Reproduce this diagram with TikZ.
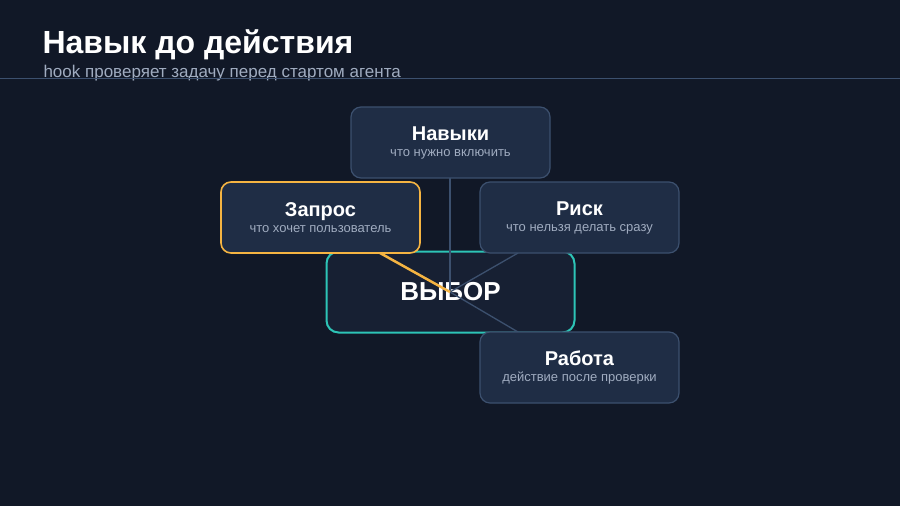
\documentclass[tikz,border=0pt]{standalone}
\usepackage{fontspec}
\setmainfont{Liberation Sans}
\definecolor{bgcol}{RGB}{17,24,39}
\definecolor{boxfill}{RGB}{31,45,69}
\definecolor{boxline}{RGB}{60,80,110}
\definecolor{midfill}{RGB}{23,32,51}
\definecolor{tealcol}{RGB}{45,196,182}
\definecolor{orangecol}{RGB}{245,180,66}
\definecolor{subcol}{RGB}{160,172,192}
\tikzset{
  card/.style={draw=boxline,fill=boxfill,line width=1.2pt,rounded corners=10pt,
    minimum width=199pt,minimum height=71pt,align=center,text=white},
  link/.style={draw=boxline,line width=1.3pt}
}
\newcommand{\cardtext}[2]{{\fontsize{20}{24}\selectfont\bfseries #1}\\[4pt]{\fontsize{13}{15}\selectfont\color{subcol}#2}}
\begin{document}
\begin{tikzpicture}[x=1pt,y=-1pt]
  \fill[bgcol] (0,0) rectangle (900,506);
  \useasboundingbox (0,0) rectangle (900,506);
  \node[anchor=base west,text=white,font=\fontsize{32}{36}\selectfont\bfseries] (title) at (39,53) {Навык до действия};
  \node[anchor=base west,text=subcol,font=\fontsize{17}{20}\selectfont] (sub) at (40,77) {hook проверяет задачу перед стартом агента};
  \draw[boxline,line width=0.8pt] (0,78) -- (900,78);
  % center
  \node[draw=tealcol,fill=midfill,line width=2pt,rounded corners=12pt,minimum width=248pt,
    minimum height=81pt,text=white,font=\fontsize{26}{30}\selectfont\bfseries] (choice) at (450.5,292) {ВЫБОР};
  \coordinate (hub) at (450,292);
  \coordinate (skillsend) at (450,178);
  \coordinate (reqend) at (380,253);
  \coordinate (riskend) at (518,253);
  \coordinate (workend) at (518,332);
  \draw[link] (hub) -- (skillsend);
  \draw[link] (hub) -- (riskend);
  \draw[link] (hub) -- (workend);
  \draw[orangecol,line width=2.5pt] (hub) -- (reqend);
  % outer cards
  \node[card] (skills) at (450.5,142.5) {\cardtext{Навыки}{что нужно включить}};
  \node[card,draw=orangecol,line width=1.6pt] (request) at (320.5,217.5) {\cardtext{Запрос}{что хочет пользователь}};
  \node[card] (risk) at (579.5,217.5) {\cardtext{Риск}{что нельзя делать сразу}};
  \node[card] (work) at (579.5,367.5) {\cardtext{Работа}{действие после проверки}};
\end{tikzpicture}
\end{document}
